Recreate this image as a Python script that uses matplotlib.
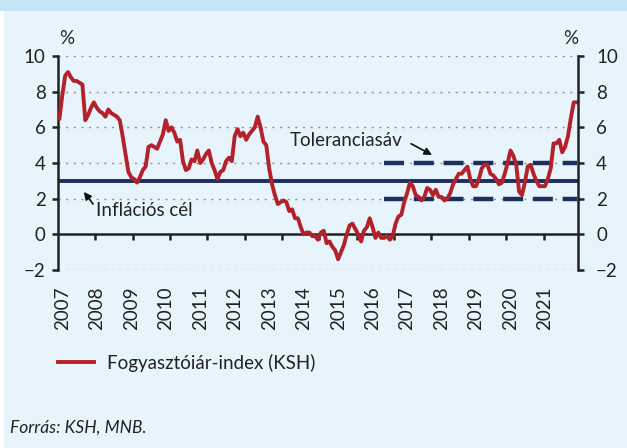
import matplotlib
matplotlib.use("Agg")
import matplotlib.pyplot as plt
from matplotlib.patches import Rectangle
import numpy as np

# monthly CPI (yoy, %), Dec 2006 .. Dec 2021
cpi_2006_12 = [6.5]
cpi_2007 = [7.8, 8.9, 9.1, 8.8, 8.6, 8.6, 8.5, 8.4, 6.4, 6.7, 7.1, 7.4]
cpi_2008 = [7.1, 6.9, 6.8, 6.6, 7.0, 6.8, 6.7, 6.6, 6.4, 5.5, 4.5, 3.5]
cpi_2009 = [3.2, 3.1, 2.9, 3.2, 3.6, 3.8, 4.9, 5.0, 4.9, 4.8, 5.2, 5.6]
cpi_2010 = [6.4, 5.8, 6.0, 5.7, 5.2, 5.3, 4.1, 3.6, 3.7, 4.2, 4.1, 4.7]
cpi_2011 = [4.0, 4.2, 4.5, 4.7, 4.0, 3.6, 3.1, 3.5, 3.6, 4.1, 4.3, 4.1]
cpi_2012 = [5.5, 5.9, 5.5, 5.7, 5.3, 5.6, 5.8, 6.0, 6.6, 6.0, 5.2, 5.0]
cpi_2013 = [3.7, 2.8, 2.2, 1.7, 1.8, 1.9, 1.8, 1.3, 1.4, 0.9, 0.9, 0.4]
cpi_2014 = [0.0, 0.1, 0.1, -0.1, -0.1, -0.3, 0.1, 0.2, -0.5, -0.4, -0.7, -0.9]
cpi_2015 = [-1.4, -1.0, -0.6, 0.0, 0.5, 0.6, 0.3, 0.0, -0.4, 0.2, 0.4, 0.9]
cpi_2016 = [0.4, -0.2, 0.1, -0.2, -0.2, -0.1, -0.3, -0.1, 0.6, 1.0, 1.1, 1.8]
cpi_2017 = [2.3, 2.9, 2.7, 2.2, 2.1, 1.9, 2.1, 2.6, 2.5, 2.2, 2.5, 2.1]
cpi_2018 = [2.1, 1.9, 2.0, 2.3, 2.8, 3.1, 3.4, 3.4, 3.6, 3.8, 3.1, 2.7]
cpi_2019 = [2.7, 3.1, 3.7, 3.9, 3.9, 3.4, 3.3, 3.1, 2.8, 2.9, 3.4, 4.0]
cpi_2020 = [4.7, 4.4, 3.9, 2.4, 2.2, 2.9, 3.8, 3.9, 3.4, 3.0, 2.7, 2.7]
cpi_2021 = [2.7, 3.1, 3.7, 5.1, 5.1, 5.3, 4.6, 4.9, 5.5, 6.5, 7.4, 7.4]

years = list(range(2007, 2022))
target = 3.0
band_low, band_high = 2.0, 4.0
band_start = 113  # first month index of the tolerance band (May 2016)

cpi = np.array(cpi_2006_12 + cpi_2007 + cpi_2008 + cpi_2009 + cpi_2010 + cpi_2011
               + cpi_2012 + cpi_2013 + cpi_2014 + cpi_2015 + cpi_2016 + cpi_2017
               + cpi_2018 + cpi_2019 + cpi_2020 + cpi_2021)
months = np.arange(len(cpi))

BG = "#e8f4fb"
RED = "#b3222a"
NAVY = "#1c2f5e"
INK = "#222222"
plt.rcParams["font.family"] = ["Lato", "DejaVu Sans"]

fig = plt.figure(figsize=(6.27, 4.48), dpi=100, facecolor=BG)
fig.patches.append(Rectangle((0, 1 - 11 / 448), 1, 11 / 448, transform=fig.transFigure,
                             facecolor="#c4e5f5", edgecolor="none", zorder=0))
fig.patches.append(Rectangle((0, 0), 4 / 627, 1 - 11 / 448, transform=fig.transFigure,
                             facecolor="white", edgecolor="none", zorder=0))

ax = fig.add_axes([58 / 627, 1 - 270 / 448, 520 / 627, 214 / 448])
ax.set_facecolor("none")
ax.set_xlim(-0.5, len(cpi) - 0.5)
ax.set_ylim(-2, 10)

yt = [-2, 0, 2, 4, 6, 8, 10]
ylabels = ["\u22122" if v < 0 else str(v) for v in yt]
for v in yt:
    if v != 0:
        ax.axhline(v, color="#8f8f8f", lw=1.0, ls=(0, (1.5, 4)), zorder=1)

ax.axhline(target, color=NAVY, lw=2.8, zorder=2)
band_x = months[band_start:]
ax.plot(band_x, np.full(len(band_x), band_high), color=NAVY, lw=3.2, ls=(0, (4.5, 2.2)), zorder=2)
ax.plot(band_x, np.full(len(band_x), band_low), color=NAVY, lw=3.2, ls=(0, (4.5, 2.2)), zorder=2)

ax.plot(months, cpi, color=RED, lw=2.8, zorder=3, solid_joinstyle="round",
        label="Fogyasztóiár-index (KSH)")

# spines
ax.spines["left"].set_linewidth(1.8)
ax.spines["left"].set_color(INK)
ax.spines["right"].set_visible(False)
ax.spines["top"].set_visible(False)
ax.spines["bottom"].set_position(("data", 0))
ax.spines["bottom"].set_linewidth(1.8)
ax.spines["bottom"].set_color(INK)

ax.set_yticks(yt)
ax.set_yticklabels(ylabels)
ax.tick_params(axis="y", direction="out", length=4, width=1.8, color=INK,
               labelsize=13.5, labelcolor=INK, pad=5, right=False)

ax2 = ax.twinx()
ax2.set_ylim(-2, 10)
ax2.set_yticks(yt)
ax2.set_yticklabels(ylabels)
ax2.tick_params(axis="y", direction="out", length=4, width=1.8, color=INK,
                labelsize=13.5, labelcolor=INK, pad=9)
for s in ["left", "top", "bottom"]:
    ax2.spines[s].set_visible(False)
ax2.spines["right"].set_linewidth(1.8)
ax2.spines["right"].set_color(INK)

# tick marks on the zero line every 13 months, year labels on a separate axis
ax.set_xticks(np.arange(12.5, len(cpi), 13))
ax.tick_params(axis="x", direction="out", length=4, width=1.8, color=INK, labelbottom=False)

sec = ax.secondary_xaxis("bottom")
sec.set_xticks([1 + 12 * i for i in range(len(years))])
sec.set_xticklabels([str(y) for y in years], rotation=90)
sec.tick_params(length=0, labelsize=13.5, labelcolor=INK, pad=12)
sec.spines["bottom"].set_visible(False)

# % labels
fig.text(67 / 627, 1 - 39 / 448, "%", ha="center", va="center", fontsize=13.5, color=INK)
fig.text(571 / 627, 1 - 39 / 448, "%", ha="center", va="center", fontsize=13.5, color=INK)

# annotations
ax.text(119.3, 5.25, "Toleranciasáv", ha="right", va="center", fontsize=13.5, color=INK)
ax.annotate("", xy=(129.7, 4.45), xytext=(122.4, 5.08),
            arrowprops=dict(arrowstyle="-|>", color="#111111", lw=1.2, mutation_scale=11,
                            shrinkA=0, shrinkB=0))
ax.text(12.7, 1.32, "Inflációs cél", ha="left", va="center", fontsize=13.5, color=INK)
ax.annotate("", xy=(8.5, 2.38), xytext=(11.7, 1.7),
            arrowprops=dict(arrowstyle="-|>", color="#111111", lw=1.2, mutation_scale=11,
                            shrinkA=0, shrinkB=0))

fig.legend(loc="center left", bbox_to_anchor=(58 / 627, 1 - 363 / 448), frameon=False,
           fontsize=13.5, handlelength=1.9, handletextpad=0.7, borderpad=0, borderaxespad=0,
           labelcolor=INK)

fig.text(10 / 627, 1 - 428 / 448, "Forrás: KSH, MNB.", ha="left", va="center",
         fontsize=12.5, style="italic", color=INK)

fig.savefig("out.png", dpi=100, facecolor=BG)
